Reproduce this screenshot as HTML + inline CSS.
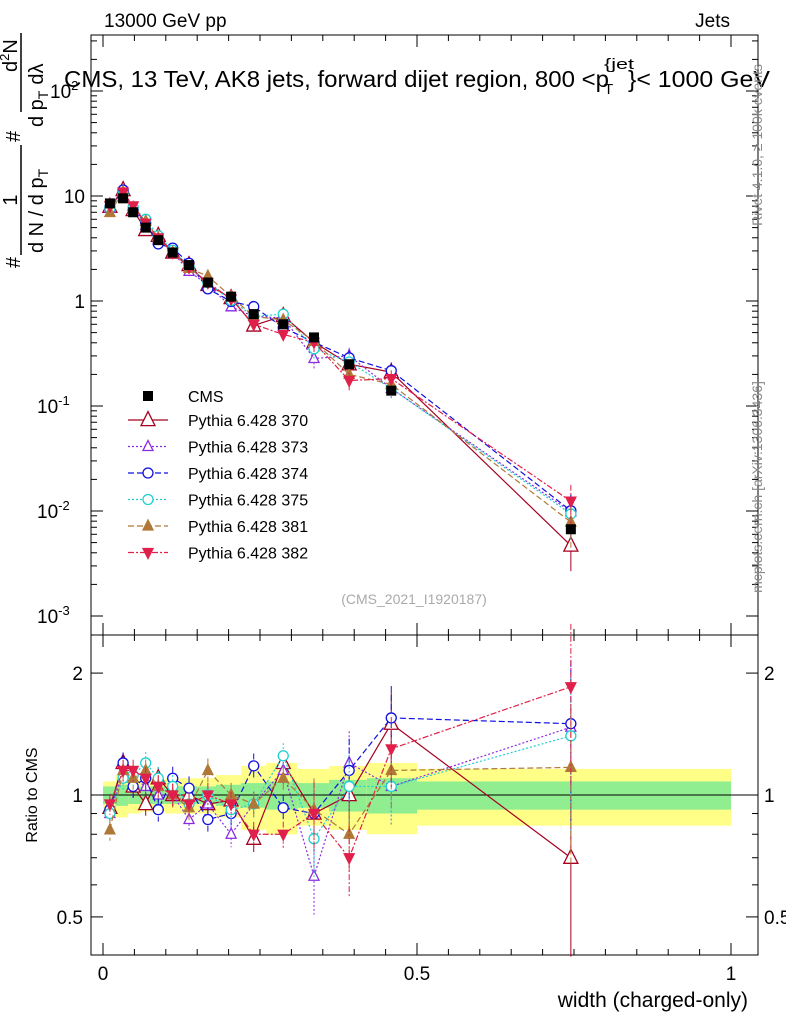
<!DOCTYPE html>
<html><head><meta charset="utf-8"><style>
body{margin:0;background:#fff;}
svg text{font-family:"Liberation Sans",sans-serif;}
</style></head><body>
<svg id="c" width="786" height="1024" xmlns="http://www.w3.org/2000/svg"></svg>
<script>
const binCenters=[0.011,0.032,0.048,0.068,0.088,0.111,0.137,0.167,0.204,0.240,0.287,0.336,0.392,0.459,0.745];
const binEdges=[0,0.02,0.04,0.06,0.08,0.1,0.12,0.15,0.18,0.22,0.26,0.31,0.36,0.42,0.5,1.0];
const cmsValues=[8.5,9.5,7,5,3.8,2.9,2.2,1.5,1.1,0.75,0.6,0.45,0.25,0.14,0.0067];
const bandGreen=[0.05,0.06,0.05,0.05,0.05,0.05,0.05,0.05,0.06,0.07,0.08,0.07,0.09,0.10,0.08];
const bandYellow=[0.08,0.12,0.1,0.09,0.09,0.1,0.1,0.1,0.12,0.18,0.2,0.16,0.18,0.2,0.16];
const ratio370=[0.93,1.2,1.05,0.95,1.1,1.0,1.0,0.95,0.97,0.78,1.2,0.9,1.0,1.5,0.7];
const ratio373=[0.9,1.15,1.1,1.05,1.0,1.0,0.87,0.95,0.8,0.95,1.15,0.63,1.2,1.05,1.47];
const ratio374=[0.92,1.2,1.05,1.1,0.92,1.1,1.04,0.87,0.9,1.18,0.93,0.9,1.15,1.55,1.5];
const ratio375=[0.9,1.1,1.12,1.2,1.1,1.05,0.95,1.0,0.92,0.95,1.25,0.78,1.05,1.05,1.4];
const ratio381=[0.82,1.15,1.1,1.15,1.05,1.0,0.93,1.15,1.0,0.95,1.1,0.92,0.8,1.15,1.17];
const ratio382=[0.95,1.15,1.15,1.1,1.05,1.0,0.95,1.0,0.95,0.8,0.8,0.9,0.7,1.3,1.85];
const xTicks=[0,0.5,1];
const series=[
 {name:"Pythia 6.428 370",r:ratio370,c:"#a50021",m:"tri",fill:false,dash:"",size:7},
 {name:"Pythia 6.428 373",r:ratio373,c:"#8a2be2",m:"tri",fill:false,dash:"2,2",size:5},
 {name:"Pythia 6.428 374",r:ratio374,c:"#1010e0",m:"circ",fill:false,dash:"6,3",size:5},
 {name:"Pythia 6.428 375",r:ratio375,c:"#20d0d0",m:"circ",fill:false,dash:"2,2",size:5},
 {name:"Pythia 6.428 381",r:ratio381,c:"#b07838",m:"tri",fill:true,dash:"6,3",size:5},
 {name:"Pythia 6.428 382",r:ratio382,c:"#e0204a",m:"tridown",fill:true,dash:"6,2,2,2",size:5}];
const svg=document.getElementById('c');const NS="http://www.w3.org/2000/svg";
function el(t,a,p){const e=document.createElementNS(NS,t);for(const k in a)e.setAttribute(k,a[k]);(p||svg).appendChild(e);return e;}
function txt(x,y,s,a,p){const e=el('text',Object.assign({x:x,y:y},a||{}),p);e.textContent=s;return e;}
const X=v=>103+628*v;
const Ym=v=>301-105*Math.log10(v);
const Yr=v=>795-405*Math.log10(v);
const L=91,R=758,T=35,MB=635,RB=955;
binCenters.forEach((c,i)=>{
 const x0=X(binEdges[i]),x1=X(binEdges[i+1]);
 const y=el('rect',{x:x0,y:Yr(1+bandYellow[i]),width:x1-x0,height:Yr(1-bandYellow[i])-Yr(1+bandYellow[i]),fill:"#ffff88"});
 
 const g=el('rect',{x:x0,y:Yr(1+bandGreen[i]),width:x1-x0,height:Yr(1-bandGreen[i])-Yr(1+bandGreen[i]),fill:"#90ee90"});
 
});
el('line',{x1:L,x2:R,y1:Yr(1),y2:Yr(1),stroke:"#000"});
el('rect',{x:L,y:T,width:R-L,height:MB-T,fill:"none",stroke:"#000"});
el('rect',{x:L,y:MB,width:R-L,height:RB-MB,fill:"none",stroke:"#000"});
for(let e=-3;e<=2;e++){for(let k=1;k<10;k++){const v=k*Math.pow(10,e);const y=Ym(v);if(y<T||y>MB)continue;const l=k==1?12:6;
 el('line',{x1:L,x2:L+l,y1:y,y2:y,stroke:"#000"});el('line',{x1:R,x2:R-l,y1:y,y2:y,stroke:"#000"});}}
[-3,-2,-1].forEach(e=>{const t=txt(37,Ym(Math.pow(10,e))+7,"10",{"font-size":19});const s=el('tspan',{dy:-8,"font-size":13},t);s.textContent=String(e);});
txt(85,Ym(1)+7,"1",{"font-size":19,"text-anchor":"end"});txt(85,Ym(10)+7,"10",{"font-size":19,"text-anchor":"end"});
{const t=txt(50,Ym(100)+7,"10",{"font-size":19});const s=el('tspan',{dy:-8,"font-size":13},t);s.textContent="2";}
[0.5,0.6,0.7,0.8,0.9,1,2].forEach(v=>{const y=Yr(v);const l=(v==0.5||v==1||v==2)?12:6;el('line',{x1:L,x2:L+l,y1:y,y2:y,stroke:"#000"});el('line',{x1:R,x2:R-l,y1:y,y2:y,stroke:"#000"});});
[[0.5,"0.5"],[1,"1"],[2,"2"]].forEach(([v,s])=>{txt(83,Yr(v)+7,s,{"font-size":19,"text-anchor":"end"});txt(764,Yr(v)+7,s,{"font-size":19});});
for(let i=0;i<=20;i++){const v=i*0.05;const x=X(v);if(x>R)continue;const l=i%10==0?12:6;
 el('line',{x1:x,x2:x,y1:RB,y2:RB-l,stroke:"#000"});el('line',{x1:x,x2:x,y1:MB,y2:MB-l,stroke:"#000"});el('line',{x1:x,x2:x,y1:T,y2:T+l,stroke:"#000"});el('line',{x1:x,x2:x,y1:MB,y2:MB+l,stroke:"#000"});}
xTicks.forEach(v=>{txt(X(v),980,String(v),{"font-size":19,"text-anchor":"middle"});});
function marker(m,x,y,s,c,fill,g){
 if(m=="circ")return el('circle',{cx:x,cy:y,r:s,fill:fill?c:"#fff",stroke:c,"stroke-width":1.3},g);
 if(m=="sq")return el('rect',{x:x-5,y:y-5,width:10,height:10,fill:c},g);
 const d=m=="tri"?1:-1;
 return el('polygon',{points:`${x},${y-d*s*1.2} ${x-s},${y+d*s*0.8} ${x+s},${y+d*s*0.8}`,fill:fill?c:"#fff",stroke:c,"stroke-width":1.3},g);
}
series.forEach((s,si)=>{
 const g=el('g',{});
 const mv=s.r.map((r,i)=>r*cmsValues[i]);
 el('polyline',{points:binCenters.map((c,i)=>X(c)+","+Ym(mv[i])).join(" "),fill:"none",stroke:s.c,"stroke-width":1.2,"stroke-dasharray":s.dash},g);
 el('polyline',{points:binCenters.map((c,i)=>X(c)+","+Yr(s.r[i])).join(" "),fill:"none",stroke:s.c,"stroke-width":1.2,"stroke-dasharray":s.dash},g);
 binCenters.forEach((c,i)=>{const x=X(c);const err=0.06+0.02*i/14+(i==14?0.35:0)+(i>=11&&i<14?0.12:0);
  el('line',{x1:x,x2:x,y1:Yr(s.r[i]*(1+err)),y2:Yr(s.r[i]*(1-err)),stroke:s.c,"stroke-dasharray":s.dash},g);
  el('line',{x1:x,x2:x,y1:Ym(mv[i]*(1+err)),y2:Ym(mv[i]*(1-err)),stroke:s.c,"stroke-dasharray":s.dash},g);
  marker(s.m,x,Ym(mv[i]),s.size,s.c,s.fill,g);marker(s.m,x,Yr(s.r[i]),s.size,s.c,s.fill,g);});
 const ly=420+26.5*si;const lg=el('g',{},g);
 el('line',{x1:128,x2:168,y1:ly,y2:ly,stroke:s.c,"stroke-width":1.2,"stroke-dasharray":s.dash},lg);
 marker(s.m,148,ly,s.size,s.c,s.fill,lg);txt(188,ly+6,s.name,{"font-size":16},lg);
});
const cg=el('g',{});
binCenters.forEach((c,i)=>marker('sq',X(c),Ym(cmsValues[i]),5,"#000",true,cg));
marker('sq',148,396,5,"#000",true,cg);txt(188,402,"CMS",{"font-size":16},cg);
txt(104,27,"13000 GeV pp",{"font-size":19,});
txt(730,27,"Jets",{"font-size":19,"text-anchor":"end",});
{const t=txt(64,87,"",{"font-size":23,});
 const m=el('tspan',{textLength:545,lengthAdjust:"spacingAndGlyphs"},t);m.textContent="CMS, 13 TeV, AK8 jets, forward dijet region, 800 <p";
 const a=el('tspan',{x:604,dy:7,"font-size":15},t);a.textContent="T";
 const b=el('tspan',{x:604,dy:-25,"font-size":15,textLength:30,lengthAdjust:"spacingAndGlyphs"},t);b.textContent="{jet";
 const c2=el('tspan',{x:628,dy:18,"font-size":23,textLength:142,lengthAdjust:"spacingAndGlyphs"},t);c2.textContent="}< 1000 GeV";}
txt(414,604,"(CMS_2021_I1920187)",{"font-size":14,fill:"#aaa","text-anchor":"middle"});
txt(748,1007,"width (charged-only)",{"font-size":21,"text-anchor":"end",});
txt(0,0,"Ratio to CMS",{"font-size":16,"text-anchor":"middle",transform:"translate(37,795) rotate(-90)",});
const yt=el('g',{transform:"rotate(-90)"});
txt(-268,20,"#",{"font-size":20},yt);
txt(-200,17,"1",{"font-size":20,"text-anchor":"middle"},yt);
el('line',{x1:-255,x2:-145,y1:21,y2:21,stroke:"#000","stroke-width":1.5},yt);
{const t=txt(-253,43,"d N / d p",{"font-size":20},yt);const s=el('tspan',{dy:5,"font-size":14},t);s.textContent="T";}
txt(-142,20,"#",{"font-size":20},yt);
{const t=txt(-72,17,"d",{"font-size":20},yt);const s=el('tspan',{dy:-8,"font-size":13},t);s.textContent="2";const n=el('tspan',{dy:8},t);n.textContent="N";}
el('line',{x1:-112,x2:-33,y1:21,y2:21,stroke:"#000","stroke-width":1.5},yt);
{const t=txt(-127,43,"d p",{"font-size":20},yt);const s=el('tspan',{dy:5,"font-size":14},t);s.textContent="T";const n=el('tspan',{dy:-5,dx:6},t);n.textContent="dλ";}
txt(0,0,"Rivet 4.1.0, ≥ 100k events",{"font-size":14,fill:"#888","text-anchor":"middle",transform:"translate(762,145) rotate(-90)"});
txt(0,0,"mcplots.cern.ch [arXiv:1306.3436]",{"font-size":14,fill:"#888","text-anchor":"middle",transform:"translate(762,487) rotate(-90)"});
</script>
</body></html>
